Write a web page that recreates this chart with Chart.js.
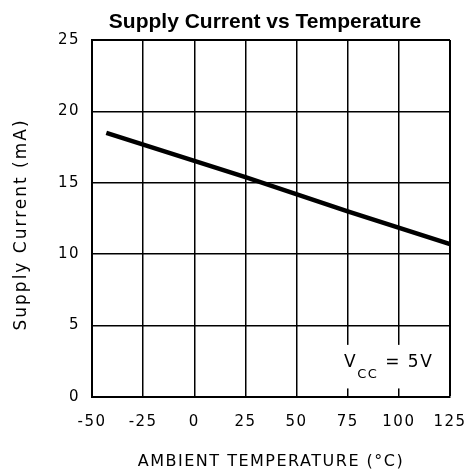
<!DOCTYPE html>
<html>
<head>
<meta charset="utf-8">
<script src="https://cdn.jsdelivr.net/npm/chart.js@4.4.1/dist/chart.umd.min.js"></script>
<style>
  html, body { margin: 0; padding: 0; background: #fff; }
  canvas { display: block; }
</style>
</head>
<body>
<canvas id="myChart" width="467" height="476"></canvas>
<script>
// values
const temps = [-43, 25, 75, 125];
const current = [18.5, 15.4, 13.0, 10.7];
const xTicks = [-50, -25, 0, 25, 50, 75, 100, 125];
const yTicks = [0, 5, 10, 15, 20, 25];

const chartTitle = "Supply Current vs Temperature";
const xTitle = "AMBIENT TEMPERATURE (°C)";
const yTitle = "Supply Current (mA)";
const noteMain = "V";
const noteSub = "CC";
const noteRest = " = 5V";

const axisFont = "DejaVu Sans";

// spacing for the plotter-style text
const spacingPlugin = {
    id: "spacing",
    beforeDraw(chart) {
        chart.ctx.letterSpacing = "1.5px";
    }
};

// white box with the V_CC note, bottom right
const notePlugin = {
    id: "note",
    afterDatasetsDraw(chart) {
        const ctx = chart.ctx;
        const x = chart.scales.x;
        const y = chart.scales.y;

        const left = x.getPixelForValue(70);
        const right = x.getPixelForValue(122);
        const top = y.getPixelForValue(3.65);
        const bottom = y.getPixelForValue(0.6);

        ctx.save();
        ctx.fillStyle = "#fff";
        ctx.fillRect(left, top, right - left, bottom - top);

        ctx.fillStyle = "#000";
        ctx.letterSpacing = "1.5px";
        ctx.textBaseline = "alphabetic";
        ctx.textAlign = "left";

        let tx = x.getPixelForValue(73.2);
        const base = y.getPixelForValue(2.1);

        ctx.font = "17px '" + axisFont + "'";
        ctx.fillText(noteMain, tx, base);
        tx += ctx.measureText(noteMain).width;

        ctx.font = "13px '" + axisFont + "'";
        ctx.fillText(noteSub, tx, base + 11);
        tx += ctx.measureText(noteSub).width;

        ctx.font = "17px '" + axisFont + "'";
        ctx.fillText(noteRest, tx, base);
        ctx.restore();
    }
};

// bold title and the rotated y title
const textPlugin = {
    id: "texts",
    afterDraw(chart) {
        const ctx = chart.ctx;
        const area = chart.chartArea;
        ctx.save();
        ctx.letterSpacing = "0px";
        ctx.font = "bold 21px 'Liberation Sans'";
        ctx.fillStyle = "#000";
        ctx.textAlign = "center";
        ctx.textBaseline = "alphabetic";
        ctx.fillText(chartTitle, (area.left + area.right) / 2 - 6, 28);
        ctx.restore();

        ctx.save();
        ctx.letterSpacing = "2px";
        ctx.font = "17px '" + axisFont + "'";
        ctx.fillStyle = "#000";
        ctx.textAlign = "center";
        ctx.textBaseline = "middle";
        ctx.translate(22, (area.top + area.bottom) / 2 + 6);
        ctx.rotate(-Math.PI / 2);
        ctx.fillText(yTitle, 0, 0);
        ctx.restore();
    }
};

function createChart() {
    const ctx = document.getElementById("myChart").getContext("2d");

    window.myChart = new Chart(ctx, {
        type: "line",
        data: {
            datasets: [{
                data: temps.map((t, i) => ({ x: t, y: current[i] })),
                borderColor: "#000",
                borderWidth: 4.5,
                borderCapStyle: "butt",
                pointRadius: 0,
                tension: 0,
                fill: false
            }]
        },
        options: {
            responsive: false,
            animation: false,
            layout: {
                padding: { top: 40, right: 17, left: 0, bottom: 0 }
            },
            plugins: {
                legend: { display: false },
                tooltip: { enabled: false },
                title: { display: false }
            },
            scales: {
                x: {
                    type: "linear",
                    min: -50,
                    max: 125,
                    afterBuildTicks: (s) => { s.ticks = xTicks.map(v => ({ value: v })); },
                    afterFit: (s) => { s.height = 79; },
                    ticks: {
                        color: "#000",
                        padding: 0,
                        maxRotation: 0,
                        font: { family: axisFont, size: 15 }
                    },
                    grid: {
                        color: "#000",
                        drawTicks: true,
                        tickLength: 16,
                        tickColor: "rgba(0,0,0,0)",
                        lineWidth: (c) => (c.tick && c.tick.value === 125) ? 2 : 1.5
                    },
                    border: { color: "#000", width: 2 },
                    title: {
                        display: true,
                        text: xTitle,
                        color: "#000",
                        font: { family: axisFont, size: 16 },
                        padding: { top: 0, bottom: 5 }
                    }
                },
                y: {
                    min: 0,
                    max: 25,
                    afterBuildTicks: (s) => { s.ticks = yTicks.map(v => ({ value: v })); },
                    afterFit: (s) => { s.width = 92; },
                    ticks: {
                        color: "#000",
                        padding: 12,
                        font: { family: axisFont, size: 15 }
                    },
                    grid: {
                        color: "#000",
                        drawTicks: false,
                        lineWidth: (c) => (c.tick && c.tick.value === 25) ? 2 : 1.5
                    },
                    border: { color: "#000", width: 2 }
                }
            }
        },
        plugins: [spacingPlugin, notePlugin, textPlugin]
    });
}

createChart();
</script>
</body>
</html>
